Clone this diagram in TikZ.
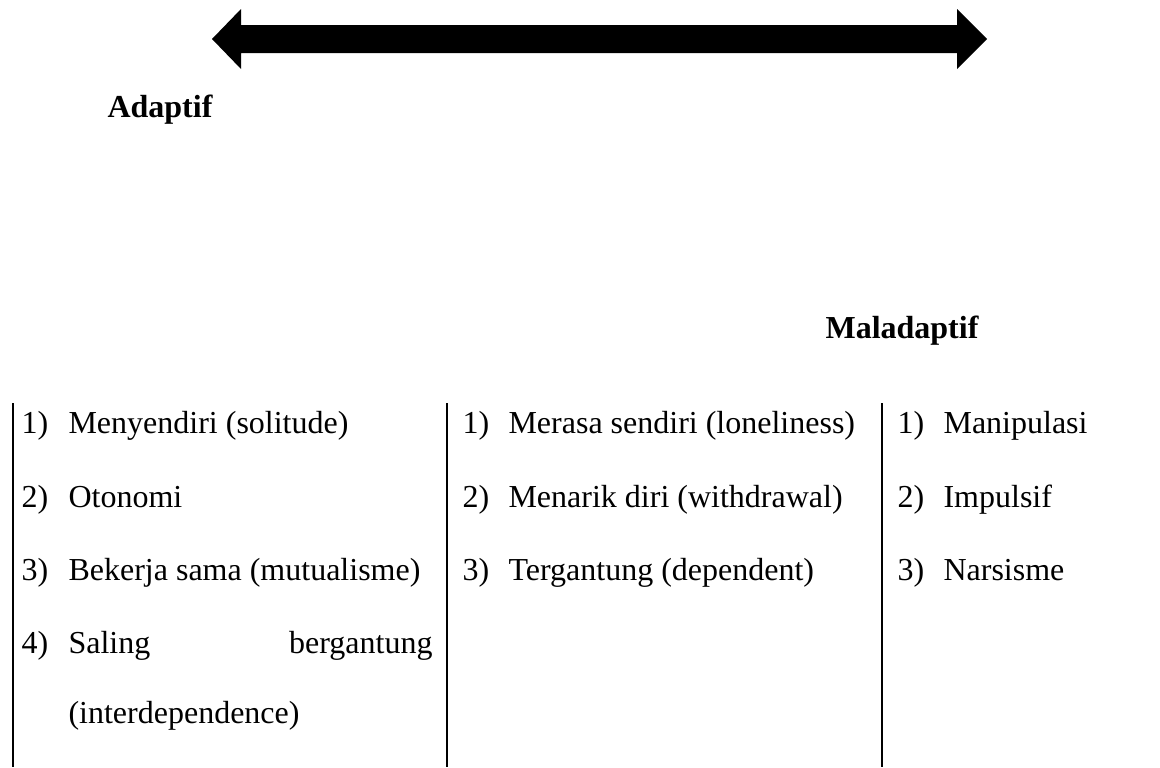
\documentclass[tikz,border=0pt]{standalone}
\usepackage{fontspec}
\setmainfont{Liberation Serif}
\begin{document}
\begin{tikzpicture}[x=0.375pt,y=-0.375pt,
  txt/.style={font=\fontsize{12}{14}\selectfont, inner sep=0, anchor=base west},
  headtxt/.style={txt, font=\fontsize{12}{14}\selectfont\bfseries},
  colline/.style={line width=0.9pt}]
\useasboundingbox (0,0) rectangle (1160,767);
% double arrow
\coordinate (L) at (212,39);
\coordinate (R) at (987,39);
\fill (L) -- (241,9) -- (241,25) -- (957,25) -- (957,9) -- (R)
      -- (957,69) -- (957,53) -- (241,53) -- (241,69) -- cycle;
% headings
\node[headtxt] (adaptif) at (107,117) {Adaptif};
\node[headtxt] (maladaptif) at (825,338) {Maladaptif};
% column lines
\coordinate (c1t) at (13,403);  \coordinate (c1b) at (13,767);
\coordinate (c2t) at (447,403); \coordinate (c2b) at (447,767);
\coordinate (c3t) at (882,403); \coordinate (c3b) at (882,767);
\draw[colline] (c1t) -- (c1b);
\draw[colline] (c2t) -- (c2b);
\draw[colline] (c3t) -- (c3b);
% column 1
\node[txt] (a1n) at (21,433) {1)};
\node[txt] (a1) at (68,433) {Menyendiri (solitude)};
\node[txt] (a2n) at (21,507) {2)};
\node[txt] (a2) at (68,507) {Otonomi};
\node[txt] (a3n) at (21,580) {3)};
\node[txt] (a3) at (68,580) {Bekerja sama (mutualisme)};
\node[txt] (a4n) at (21,653) {4)};
\node[txt] (a4) at (68,653) {\makebox[136.5pt][l]{Saling\hfill bergantung}};
\node[txt] (a4b) at (68,723) {(interdependence)};
% column 2
\node[txt] (b1n) at (462,433) {1)};
\node[txt] (b1) at (508,433) {Merasa sendiri (loneliness)};
\node[txt] (b2n) at (462,507) {2)};
\node[txt] (b2) at (508,507) {Menarik diri (withdrawal)};
\node[txt] (b3n) at (462,580) {3)};
\node[txt] (b3) at (508,580) {Tergantung (dependent)};
% column 3
\node[txt] (c1n) at (897,433) {1)};
\node[txt] (c1) at (943,433) {Manipulasi};
\node[txt] (c2n) at (897,507) {2)};
\node[txt] (c2) at (943,507) {Impulsif};
\node[txt] (c3n) at (897,580) {3)};
\node[txt] (c3) at (943,580) {Narsisme};
\end{tikzpicture}
\end{document}
